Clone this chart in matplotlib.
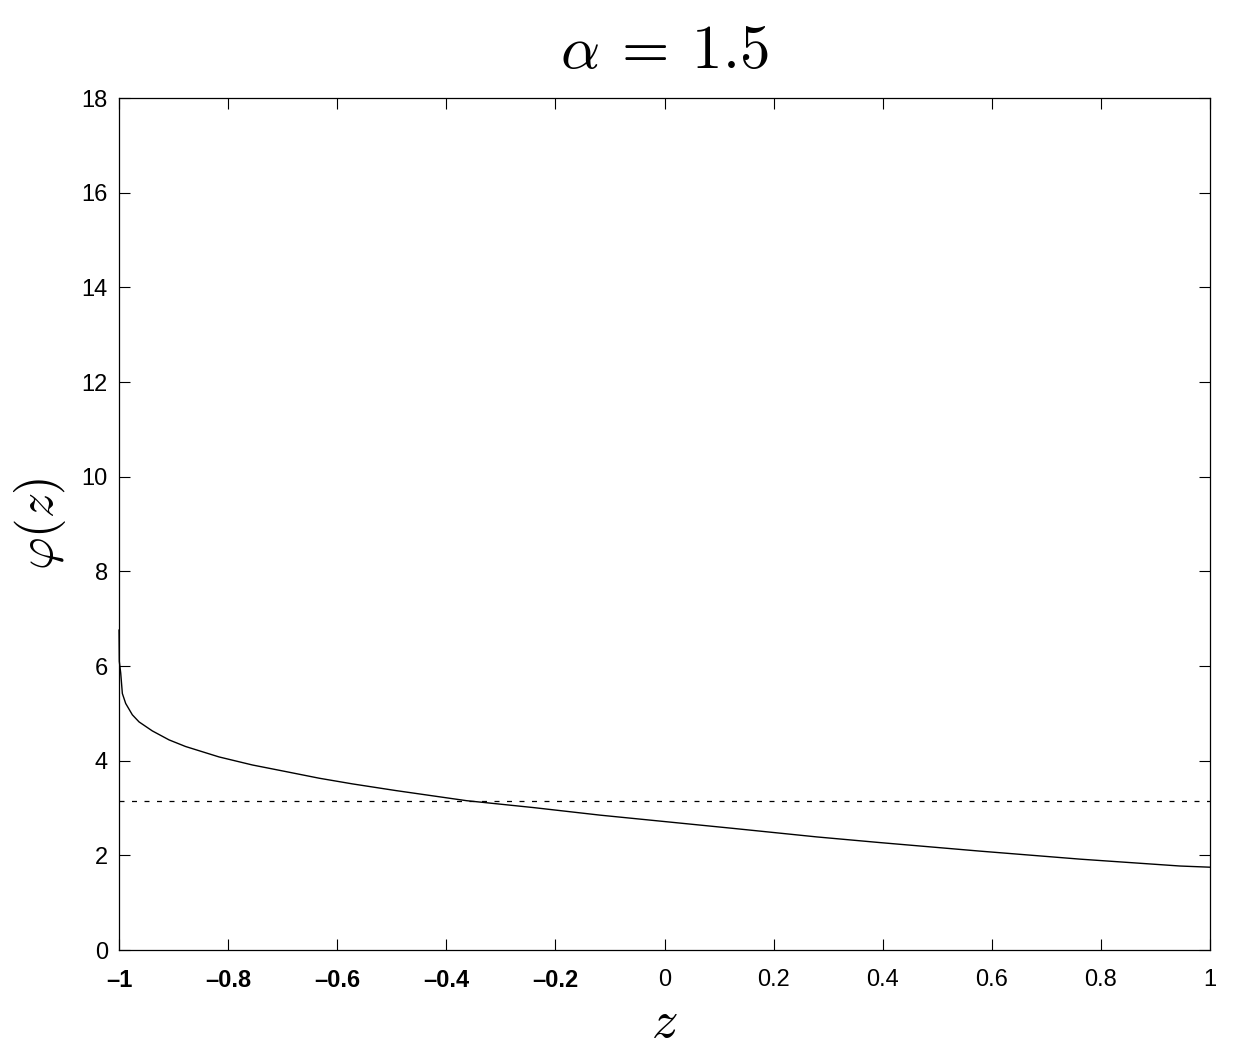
import numpy as np
import matplotlib
matplotlib.use("Agg")
import matplotlib.pyplot as plt

plt.rcParams['mathtext.fontset'] = 'cm'
plt.rcParams['font.family'] = ['Liberation Sans', 'DejaVu Sans']

# values
z_vals = [-1.0, -0.9995, -0.9969, -0.9939, -0.9878, -0.9756, -0.9633, -0.939,
          -0.9083, -0.878, -0.8167, -0.7556, -0.694, -0.633, -0.572, -0.493,
          -0.3626, -0.2405, -0.1182, 0.004, 0.126, 0.279, 0.395, 0.578, 0.762,
          0.945, 1.0]
phi_vals = [6.76, 6.1, 5.85, 5.42, 5.21, 4.97, 4.82, 4.63,
            4.44, 4.30, 4.08, 3.91, 3.77, 3.63, 3.51, 3.37,
            3.155, 3.01, 2.85, 2.71, 2.57, 2.39, 2.27, 2.09, 1.92,
            1.775, 1.75]
ref_level = np.pi

x_ticks = [-1, -0.8, -0.6, -0.4, -0.2, 0, 0.2, 0.4, 0.6, 0.8, 1]
x_tick_labels = ['\u20131', '\u20130.8', '\u20130.6', '\u20130.4', '\u20130.2',
                 '0', '0.2', '0.4', '0.6', '0.8', '1']
y_ticks = [0, 2, 4, 6, 8, 10, 12, 14, 16, 18]

fig = plt.figure(figsize=(12.36, 10.55), dpi=100)
ax = fig.add_axes([0.0963, 0.0995, 0.8827, 0.8075])

ax.plot(z_vals, phi_vals, color='black', lw=1.0, zorder=3, clip_on=False)
ax.axhline(ref_level, color='black', lw=0.9, linestyle=(0, (4, 6)))

ax.set_xlim(-1, 1)
ax.set_ylim(0, 18)
ax.set_xticks(x_ticks)
ax.set_xticklabels(x_tick_labels)
for lab, val in zip(ax.get_xticklabels(), x_ticks):
    if val < 0:
        lab.set_fontweight('bold')
ax.set_yticks(y_ticks)

ax.tick_params(direction='in', length=8, width=0.8, top=True, right=True,
               labelsize=17)
ax.tick_params(axis='x', pad=14)
ax.tick_params(axis='y', pad=8)
for sp in ax.spines.values():
    sp.set_linewidth(0.9)

ax.set_title(r'$\alpha\:=\:1.5$', fontsize=44, pad=22)
ax.set_xlabel(r'$z$', fontsize=38, labelpad=4)
ax.set_ylabel(r'$\varphi(z)$', fontsize=36, labelpad=10)

fig.savefig('out.png', dpi=100)
